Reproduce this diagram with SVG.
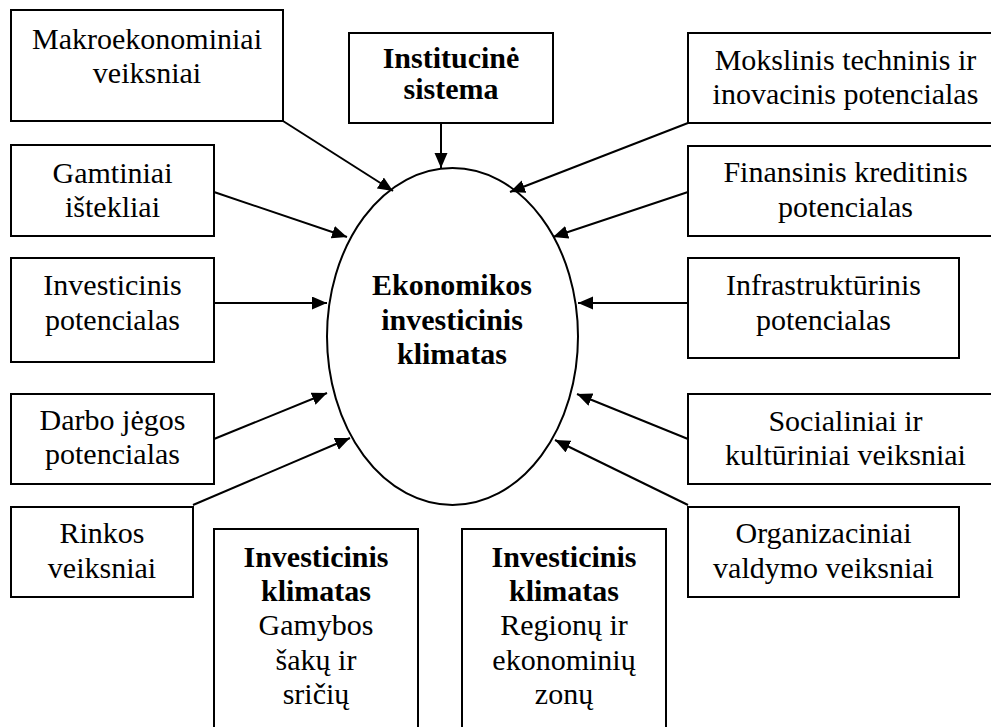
<svg xmlns="http://www.w3.org/2000/svg" width="991" height="727" viewBox="0 0 991 727">
<defs>
<marker id="arr" markerUnits="userSpaceOnUse" markerWidth="16" markerHeight="14" refX="15" refY="6.5" orient="auto">
<path d="M0,0 L15,6.5 L0,13 z" fill="#000"/>
</marker>
<style>
.box{fill:#fff;stroke:#000;stroke-width:2}
.t{font-family:"Liberation Serif","Times New Roman",serif;font-size:30px;fill:#000;text-anchor:middle}
.b{font-weight:bold}
.c{stroke:#000;stroke-width:2;fill:none;marker-end:url(#arr)}
</style>
</defs>
<rect width="991" height="727" fill="#fff"/>
<g id="connectors">
<line class="c" x1="283" y1="121" x2="393" y2="191"/>
<line class="c" x1="441" y1="123" x2="441" y2="168"/>
<line class="c" x1="688" y1="123" x2="510" y2="192"/>
<line class="c" x1="214" y1="192" x2="347" y2="237"/>
<line class="c" x1="688" y1="192" x2="553" y2="237"/>
<line class="c" x1="214" y1="303" x2="327" y2="303"/>
<line class="c" x1="688" y1="303" x2="578" y2="303"/>
<line class="c" x1="214" y1="439" x2="327" y2="393"/>
<line class="c" x1="688" y1="439" x2="577" y2="394"/>
<line class="c" x1="193" y1="505" x2="350" y2="438"/>
<line class="c" x1="688" y1="505" x2="555" y2="440"/>
</g>
<g id="center">
<ellipse cx="452.5" cy="336.5" rx="125.5" ry="168.5" fill="none" stroke="#000" stroke-width="2"/>
<text class="t b" x="452" y="295">Ekonomikos</text>
<text class="t b" x="452" y="330">investicinis</text>
<text class="t b" x="452" y="364">klimatas</text>
</g>
<g id="makro">
<rect class="box" x="11" y="10" width="272" height="111"/>
<text class="t" x="147" y="49">Makroekonominiai</text>
<text class="t" x="147" y="83">veiksniai</text>
</g>
<g id="institucine">
<rect class="box" x="349" y="33" width="204" height="90"/>
<text class="t b" x="451" y="68">Institucinė</text>
<text class="t b" x="451" y="99">sistema</text>
</g>
<g id="mokslinis">
<rect class="box" x="688" y="33" width="315" height="90"/>
<text class="t" x="845.5" y="70">Mokslinis techninis ir</text>
<text class="t" x="845.5" y="104">inovacinis potencialas</text>
</g>
<g id="gamtiniai">
<rect class="box" x="11" y="145" width="203" height="91"/>
<text class="t" x="112.5" y="183">Gamtiniai</text>
<text class="t" x="112.5" y="217">ištekliai</text>
</g>
<g id="finansinis">
<rect class="box" x="688" y="146" width="315" height="90"/>
<text class="t" x="845.5" y="182">Finansinis kreditinis</text>
<text class="t" x="845.5" y="217">potencialas</text>
</g>
<g id="investicinis">
<rect class="box" x="11" y="258" width="203" height="104"/>
<text class="t" x="112.5" y="295">Investicinis</text>
<text class="t" x="112.5" y="330">potencialas</text>
</g>
<g id="infrastrukturinis">
<rect class="box" x="688" y="258" width="271" height="100"/>
<text class="t" x="823.5" y="295">Infrastruktūrinis</text>
<text class="t" x="823.5" y="330">potencialas</text>
</g>
<g id="darbo">
<rect class="box" x="11" y="394" width="203" height="90"/>
<text class="t" x="112.5" y="430">Darbo jėgos</text>
<text class="t" x="112.5" y="464">potencialas</text>
</g>
<g id="socialiniai">
<rect class="box" x="688" y="394" width="315" height="90"/>
<text class="t" x="845.5" y="431">Socialiniai ir</text>
<text class="t" x="845.5" y="465">kultūriniai veiksniai</text>
</g>
<g id="rinkos">
<rect class="box" x="11" y="507" width="182" height="90"/>
<text class="t" x="102" y="543">Rinkos</text>
<text class="t" x="102" y="578">veiksniai</text>
</g>
<g id="organizaciniai">
<rect class="box" x="688" y="507" width="271" height="90"/>
<text class="t" x="823.5" y="543">Organizaciniai</text>
<text class="t" x="823.5" y="578">valdymo veiksniai</text>
</g>
<g id="gamybos">
<rect class="box" x="214" y="529" width="204" height="220"/>
<text class="t b" x="316" y="567">Investicinis</text>
<text class="t b" x="316" y="601">klimatas</text>
<text class="t" x="316" y="635">Gamybos</text>
<text class="t" x="316" y="670">šakų ir</text>
<text class="t" x="316" y="704">sričių</text>
</g>
<g id="regionu">
<rect class="box" x="462" y="529" width="204" height="220"/>
<text class="t b" x="564" y="567">Investicinis</text>
<text class="t b" x="564" y="601">klimatas</text>
<text class="t" x="564" y="635">Regionų ir</text>
<text class="t" x="564" y="670">ekonominių</text>
<text class="t" x="564" y="704">zonų</text>
</g>
</svg>
